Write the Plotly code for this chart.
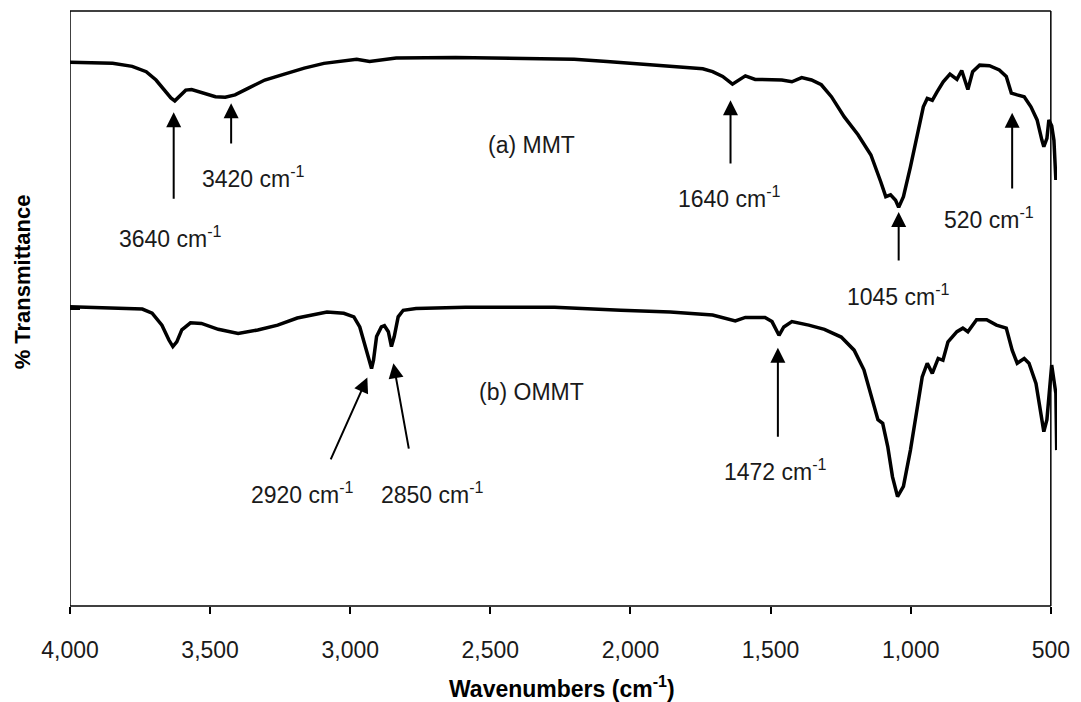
import plotly.graph_objects as go

# ---------------- data ----------------
wn_mmt = [4000, 3848, 3778, 3728, 3693, 3665, 3640, 3626, 3612, 3587, 3566, 3531, 3481, 3446,
          3411, 3365, 3305, 3235, 3164, 3094, 3023, 2977, 2931, 2836, 2624, 2483, 2366, 2201,
          2084, 1918, 1802, 1742, 1707, 1671, 1636, 1611, 1590, 1555, 1506, 1460, 1424, 1389,
          1354, 1319, 1283, 1237, 1188, 1142, 1107, 1089, 1072, 1054, 1043, 1026, 1001, 976,
          955, 941, 923, 906, 884, 860, 835, 818, 796, 779, 754, 719, 684, 659, 641, 620, 595,
          571, 549, 532, 525, 514, 507, 497, 489, 482]
t_mmt = [91.4, 91.2, 90.7, 89.8, 88.4, 86.7, 85.4, 84.9, 85.6, 86.7, 86.8, 86.3, 85.6, 85.5,
         85.9, 87.0, 88.4, 89.4, 90.4, 91.2, 91.6, 91.9, 91.5, 92.1, 92.2, 92.1, 91.9, 91.9,
         91.5, 90.9, 90.6, 90.3, 89.8, 89.0, 87.7, 88.4, 89.1, 88.5, 88.4, 88.4, 88.1, 88.8,
         88.4, 87.6, 85.6, 82.2, 79.2, 75.8, 71.3, 68.8, 69.1, 68.2, 67.0, 68.8, 73.8, 79.4,
         83.9, 85.3, 85.0, 86.4, 88.1, 89.4, 88.5, 90.0, 86.8, 89.8, 90.9, 90.8, 90.1, 89.0,
         86.2, 85.9, 85.6, 83.9, 81.7, 78.3, 77.2, 78.6, 81.7, 80.7, 78.3, 71.6]

wn_ommt = [4000, 3742, 3707, 3672, 3647, 3633, 3619, 3601, 3570, 3531, 3471, 3400, 3330, 3259,
           3189, 3083, 3023, 2987, 2966, 2949, 2931, 2924, 2917, 2906, 2889, 2878, 2864, 2853,
           2843, 2829, 2811, 2765, 2589, 2271, 2035, 1858, 1707, 1661, 1626, 1590, 1520, 1495,
           1470, 1453, 1424, 1364, 1308, 1248, 1202, 1167, 1142, 1117, 1100, 1082, 1065, 1047,
           1026, 1001, 976, 959, 941, 923, 902, 885, 867, 835, 814, 796, 765, 729, 694, 659,
           638, 620, 595, 578, 553, 536, 525, 514, 500, 497, 482, 479]
t_ommt = [50.3, 49.9, 49.2, 47.2, 44.7, 43.6, 44.4, 46.4, 47.6, 47.5, 46.5, 45.8, 46.4, 47.2,
          48.4, 49.4, 49.2, 48.6, 46.9, 44.2, 41.3, 39.9, 41.3, 45.3, 46.9, 47.1, 46.1, 43.6,
          45.3, 48.6, 49.7, 50.0, 50.2, 50.2, 49.7, 49.4, 48.9, 48.4, 47.9, 48.5, 48.5, 47.8,
          45.5, 46.9, 47.8, 47.2, 46.5, 45.2, 43.0, 39.7, 35.7, 31.3, 30.7, 26.8, 21.7, 18.4,
          20.1, 26.2, 33.5, 38.5, 40.8, 39.1, 41.6, 41.3, 44.4, 46.1, 46.7, 46.1, 48.1, 48.1,
          47.2, 46.7, 43.0, 40.8, 41.6, 40.8, 37.4, 32.9, 29.3, 31.3, 40.2, 40.5, 35.7, 26.2]

x_ticks = [4000, 3500, 3000, 2500, 2000, 1500, 1000, 500]
x_tick_text = ["4,000", "3,500", "3,000", "2,500", "2,000", "1,500", "1,000", "500"]

# peak arrows: (tip wn, tip T, tail wn, tail T)
arrows = [
    (3630, 83.0, 3630, 68.2),
    (3425, 84.5, 3425, 77.5),
    (1643, 85.0, 1643, 74.1),
    (1043, 66.2, 1043, 57.8),
    (638, 82.9, 638, 69.9),
    (2939, 38.4, 3072, 24.4),
    (2846, 40.8, 2790, 26.2),
    (1474, 43.4, 1474, 28.2),
]
# peak labels: (text, wn, T)
labels = [
    ("3640 cm<sup>-1</sup>", 3640, 62.0),
    ("3420 cm<sup>-1</sup>", 3347, 72.1),
    ("1640 cm<sup>-1</sup>", 1647, 68.7),
    ("1045 cm<sup>-1</sup>", 1043, 52.3),
    ("520 cm<sup>-1</sup>", 719, 65.2),
    ("2920 cm<sup>-1</sup>", 3171, 19.0),
    ("2850 cm<sup>-1</sup>", 2705, 19.0),
    ("1472 cm<sup>-1</sup>", 1481, 22.9),
    ("(a) MMT", 2352, 77.5),
    ("(b) OMMT", 2352, 36.0),
]

FONT = "Arial"
TXT = "#1a1a1a"

fig = go.Figure()
fig.add_trace(go.Scatter(x=wn_mmt, y=t_mmt, mode="lines",
                         line=dict(color="black", width=3.5), name="(a) MMT", showlegend=False))
fig.add_trace(go.Scatter(x=wn_ommt, y=t_ommt, mode="lines",
                         line=dict(color="black", width=3.5), name="(b) OMMT", showlegend=False))

ann = []
for tx, ty, ax, ay in arrows:
    ann.append(dict(x=tx, y=ty, ax=ax, ay=ay, xref="x", yref="y", axref="x", ayref="y",
                    text="", showarrow=True, arrowhead=2, arrowsize=1.5, arrowwidth=2,
                    arrowcolor="black"))
for t, x, y in labels:
    ann.append(dict(x=x, y=y, xref="x", yref="y", text=t, showarrow=False,
                    font=dict(family=FONT, size=23, color=TXT),
                    xanchor="center", yanchor="middle"))

ann.append(dict(x=2246, y=-0.136, xref="x", yref="paper",
                text="<b>Wavenumbers (cm<sup>-1</sup>)</b>", showarrow=False,
                font=dict(family=FONT, size=23, color="black"),
                xanchor="center", yanchor="middle"))
ann.append(dict(x=-0.048, y=0.545, xref="paper", yref="paper",
                text="<b>% Transmittance</b>", showarrow=False, textangle=-90,
                font=dict(family=FONT, size=22, color="black"),
                xanchor="center", yanchor="middle"))

line_style = dict(color="black", width=1.5)
shapes = [
    dict(type="line", xref="x", yref="paper", x0=4000, x1=4000, y0=0, y1=1, line=line_style),
    dict(type="line", xref="x", yref="paper", x0=500, x1=500, y0=0, y1=1, line=line_style),
    dict(type="line", xref="x", yref="paper", x0=4000, x1=500, y0=0, y1=0, line=line_style),
    dict(type="line", xref="x", yref="paper", x0=4000, x1=500, y0=1, y1=1, line=line_style),
]

fig.update_layout(
    width=1081, height=702,
    margin=dict(l=70, r=13, t=11, b=96),
    paper_bgcolor="white", plot_bgcolor="white",
    annotations=ann, shapes=shapes, showlegend=False,
    xaxis=dict(range=[4000, 478], tickvals=x_ticks, ticktext=x_tick_text,
               ticks="outside", ticklen=7, tickwidth=1.5, tickcolor="black",
               ticklabelstandoff=16,
               showline=False, showgrid=False, zeroline=False,
               tickfont=dict(family=FONT, size=23, color=TXT)),
    yaxis=dict(range=[0, 100], tickvals=[50], showticklabels=False,
               ticks="inside", ticklen=10, tickwidth=2.5, tickcolor="black",
               showline=False, showgrid=False, zeroline=False),
)

fig.write_html("out.html")
